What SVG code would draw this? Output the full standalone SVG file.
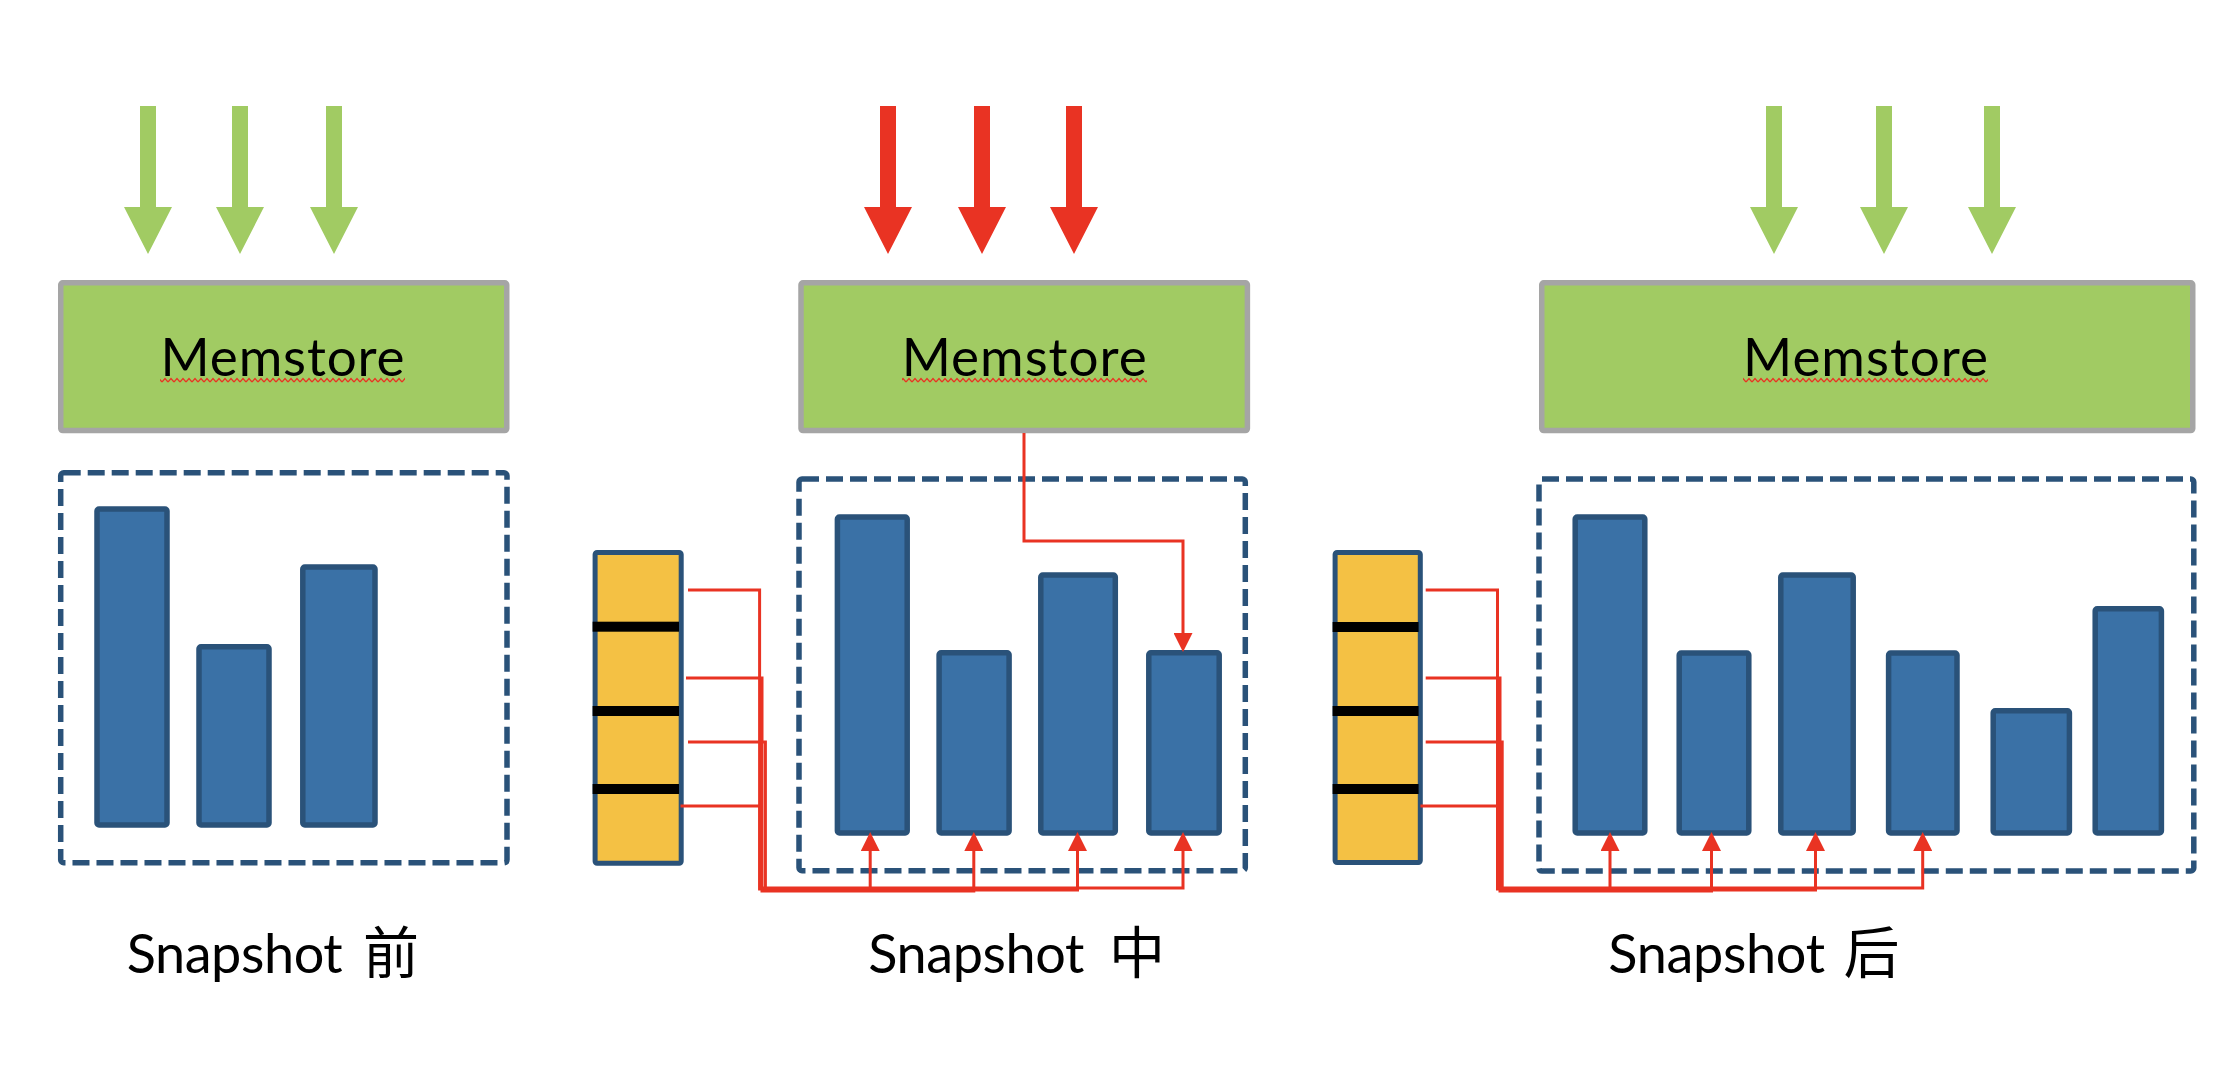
<svg xmlns="http://www.w3.org/2000/svg" xmlns:xlink="http://www.w3.org/1999/xlink" width="2230" height="1080" viewBox="0 0 2230 1080">
<style>
.mem{fill:#A1CB63;stroke:#A5A5A5;stroke-width:5.5}
.memt{font-family:Lato,"Open Sans","Noto Sans",sans-serif;font-size:53px;fill:#000;text-anchor:middle}
.dash{fill:none;stroke:#2A5279;stroke-width:5.5;stroke-dasharray:17 7}
.bar{fill:#3A71A6;stroke:#2A5279;stroke-width:5.5}
.col{fill:#F4C144;stroke:#2A5279;stroke-width:5}
.sep{fill:#000}
.lbl{font-family:Lato,"Open Sans","Noto Sans",sans-serif;font-size:54px;fill:#000}
.cjk{font-family:"Noto Sans CJK SC","Noto Sans CJK JP",sans-serif;font-size:56px}
.ln{fill:none;stroke:#E93323;stroke-width:3;stroke-linejoin:miter}
.ga{fill:#A1CB63}
.ra{fill:#E93323}
.wav{fill:url(#wavy)}
</style>
<defs>
<path id="bigArrow" d="M-8,106 H8 V207 H24 L0,254 L-24,207 H-8 Z"/>
<marker id="ah" viewBox="0 0 19 19" refX="0" refY="9.5" markerWidth="19" markerHeight="19" markerUnits="userSpaceOnUse" orient="auto">
<path d="M0,0 L19,9.5 L0,19 Z" fill="#E93323"/>
</marker>
<pattern id="wavy" x="0" y="377" width="6" height="6" patternUnits="userSpaceOnUse">
<path d="M0,5 L3,1.5 L6,5" fill="none" stroke="#E93323" stroke-width="1.2"/>
</pattern>
</defs>

<!-- Snapshot before -->
<g id="inputs-before">
<use xlink:href="#bigArrow" class="ga" x="148"/>
<use xlink:href="#bigArrow" class="ga" x="240"/>
<use xlink:href="#bigArrow" class="ga" x="334"/>
</g>
<g id="memstore-before">
<rect class="mem" x="60.75" y="282.75" width="446" height="147.8" rx="2"/>
<text class="memt" x="282.6" y="376" textLength="244">Memstore</text>
<rect class="wav" x="160" y="377" width="245" height="6"/>
</g>
<g id="store-before">
<rect class="dash" x="60.7" y="472.7" width="446.3" height="390" rx="3"/>
<rect class="bar" x="97" y="509" width="70" height="316" rx="2"/>
<rect class="bar" x="199" y="646.8" width="70" height="178.2" rx="2"/>
<rect class="bar" x="302.8" y="567" width="72.2" height="258" rx="2"/>
</g>
<g id="label-before">
<text class="lbl" x="126.7" y="972.7"><tspan textLength="216">Snapshot</tspan> <tspan class="cjk" x="363">前</tspan></text>
</g>

<!-- Snapshot during -->
<g id="inputs-during">
<use xlink:href="#bigArrow" class="ra" x="888"/>
<use xlink:href="#bigArrow" class="ra" x="982"/>
<use xlink:href="#bigArrow" class="ra" x="1074"/>
</g>
<g id="memstore-during">
<rect class="mem" x="801" y="282.75" width="446.4" height="147.8" rx="2"/>
<text class="memt" x="1024.2" y="376" textLength="245">Memstore</text>
<rect class="wav" x="902" y="377" width="245" height="6"/>
</g>
<g id="store-during">
<rect class="dash" x="799" y="479" width="446.3" height="391.7" rx="3"/>
<rect class="bar" x="837.4" y="517" width="69.8" height="316" rx="2"/>
<rect class="bar" x="939.1" y="652.8" width="70" height="180.2" rx="2"/>
<rect class="bar" x="1040.8" y="575" width="74.5" height="258" rx="2"/>
<rect class="bar" x="1148.8" y="652.8" width="70.4" height="180.2" rx="2"/>
</g>
<g id="log-during">
<rect class="col" x="595.1" y="552.5" width="86.1" height="310.7" rx="2"/>
<rect class="sep" x="592.6" y="621.7" width="86.4" height="10"/>
<rect class="sep" x="592.6" y="706" width="86.4" height="10"/>
<rect class="sep" x="592.6" y="784" width="86.4" height="10"/>
</g>
<g id="label-during">
<text class="lbl" x="868.3" y="972.7"><tspan textLength="216">Snapshot</tspan> <tspan class="cjk" x="1109">中</tspan></text>
</g>

<!-- Snapshot after -->
<g id="inputs-after">
<use xlink:href="#bigArrow" class="ga" x="1774"/>
<use xlink:href="#bigArrow" class="ga" x="1884"/>
<use xlink:href="#bigArrow" class="ga" x="1992"/>
</g>
<g id="memstore-after">
<rect class="mem" x="1541.75" y="282.75" width="651" height="147.8" rx="2"/>
<text class="memt" x="1865.5" y="376" textLength="245">Memstore</text>
<rect class="wav" x="1743" y="377" width="245" height="6"/>
</g>
<g id="store-after">
<rect class="dash" x="1539" y="479" width="654.8" height="392" rx="3"/>
<rect class="bar" x="1575.2" y="517" width="69.6" height="316" rx="2"/>
<rect class="bar" x="1679.2" y="653" width="69.6" height="180" rx="2"/>
<rect class="bar" x="1780.8" y="575" width="72.4" height="258" rx="2"/>
<rect class="bar" x="1888.6" y="653" width="68.4" height="180" rx="2"/>
<rect class="bar" x="1993.2" y="710.8" width="76.2" height="122.2" rx="2"/>
<rect class="bar" x="2095.2" y="608.8" width="66.2" height="224.2" rx="2"/>
</g>
<g id="log-after">
<rect class="col" x="1335.1" y="552.5" width="85.2" height="310" rx="2"/>
<rect class="sep" x="1332.6" y="622" width="86" height="10"/>
<rect class="sep" x="1332.6" y="706" width="86" height="10"/>
<rect class="sep" x="1332.6" y="784" width="86" height="10"/>
</g>
<g id="label-after">
<text class="lbl" x="1608.3" y="972.7"><tspan textLength="216.7">Snapshot</tspan> <tspan class="cjk" x="1843.5">后</tspan></text>
</g>

<!-- connectors -->
<g id="connectors">
<path class="ln" marker-end="url(#ah)" d="M1024,433 V541 H1183 V633"/>
<path class="ln" marker-end="url(#ah)" d="M688,590 H759.6 V889 H870.2 V851"/>
<path class="ln" marker-end="url(#ah)" d="M686,678 H762 V891 H973.8 V851"/>
<path class="ln" marker-end="url(#ah)" d="M688,742 H765.4 V890 H1077.5 V851"/>
<path class="ln" marker-end="url(#ah)" d="M680.5,806 H760 V888 H1183 V851"/>
<path class="ln" marker-end="url(#ah)" d="M1425.7,590 H1497.5 V889 H1610 V851"/>
<path class="ln" marker-end="url(#ah)" d="M1425.7,678 H1500 V891 H1711.5 V851"/>
<path class="ln" marker-end="url(#ah)" d="M1425.7,742 H1502.2 V890 H1815.5 V851"/>
<path class="ln" marker-end="url(#ah)" d="M1420.4,806 H1498 V888 H1922.7 V851"/>
</g>
</svg>
